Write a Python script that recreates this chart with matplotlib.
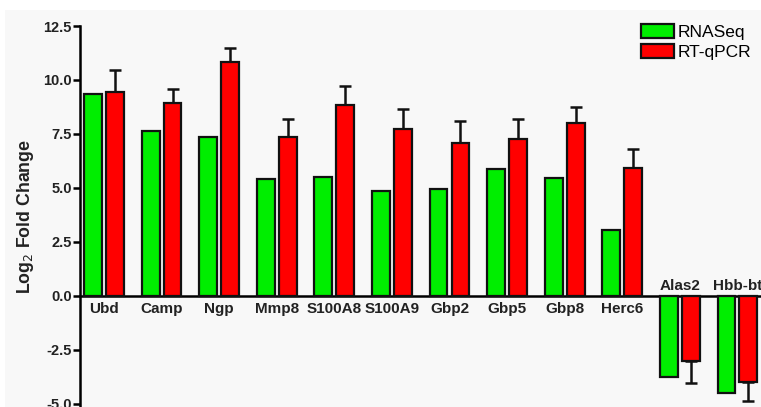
import matplotlib
matplotlib.use('Agg')
import numpy as np
import matplotlib.pyplot as plt
from matplotlib.patches import Rectangle

genes = ['Ubd', 'Camp', 'Ngp', 'Mmp8', 'S100A8', 'S100A9',
         'Gbp2', 'Gbp5', 'Gbp8', 'Herc6', 'Alas2', 'Hbb-bt']
rnaseq = [9.35, 7.65, 7.38, 5.40, 5.52, 4.88, 4.95, 5.87, 5.45, 3.06, -3.73, -4.48]
rtqpcr = [9.44, 8.95, 10.83, 7.38, 8.84, 7.73, 7.07, 7.28, 8.00, 5.91, -2.99, -3.98]
rtqpcr_err = [1.02, 0.65, 0.64, 0.83, 0.88, 0.94, 1.03, 0.90, 0.74, 0.91, 1.02, 0.87]
yticks = [-5.0, -2.5, 0.0, 2.5, 5.0, 7.5, 10.0, 12.5]

plt.rcParams['font.family'] = ['Liberation Sans', 'DejaVu Sans']

W, H = 761, 407
fig = plt.figure(figsize=(W / 100, H / 100), dpi=100)
fig.patch.set_facecolor('white')
fig.patches.append(Rectangle((5 / W, 0), 1, 1 - 10 / H, transform=fig.transFigure,
                             facecolor='#f8f8f8', edgecolor='none', zorder=-5))

ax = fig.add_axes([80 / W, 0, (W - 80) / W, 1 - 26 / H])
ax.set_facecolor('none')

x = np.arange(len(genes))
bw = 0.31
off = 0.19
ax.bar(x - off, rnaseq, bw, color='#00ee00', edgecolor='#111111', linewidth=1.6,
       label='RNASeq', zorder=3)
ax.bar(x + off, rtqpcr, bw, color='#ff0000', edgecolor='#111111', linewidth=1.6,
       label='RT-qPCR', zorder=3)

rt = np.array(rtqpcr)
err = np.array(rtqpcr_err)
lower = np.where(rt < 0, err, 0)
upper = np.where(rt >= 0, err, 0)
ax.errorbar(x + off, rtqpcr, yerr=[lower, upper], fmt='none', ecolor='#111111',
            elinewidth=1.8, capsize=4, capthick=1.8, zorder=2)

for i, g in enumerate(genes):
    if rnaseq[i] >= 0:
        ax.annotate(g, (x[i], 0), xytext=(0, -4.5), textcoords='offset points',
                    ha='center', va='top', fontsize=11, fontweight='bold', color='#222222')
    else:
        ax.annotate(g, (x[i], 0), xytext=(0, 2), textcoords='offset points',
                    ha='center', va='bottom', fontsize=11, fontweight='bold', color='#222222')

ax.set_xlim(-0.417, 11.41)
ax.set_ylim(-5.14, 12.5)
ax.set_yticks(yticks)
ax.set_yticklabels(['%.1f' % v for v in yticks], fontsize=10.5, fontweight='bold',
                   color='#222222')
ax.set_xticks([])
ax.tick_params(axis='y', direction='out', length=5, width=1.8, pad=1)

for s in ['top', 'right']:
    ax.spines[s].set_visible(False)
ax.spines['left'].set_linewidth(1.8)
ax.spines['bottom'].set_position(('data', 0))
ax.spines['bottom'].set_linewidth(1.8)

ax.set_ylabel('Log$_2$ Fold Change', fontsize=12.8, fontweight='bold', color='#222222',
              labelpad=5)

leg = ax.legend(loc='upper right', bbox_to_anchor=(1.008, 1.045), frameon=False,
                fontsize=12.5, handlelength=1.9, handleheight=0.8, handletextpad=0.2,
                labelspacing=0.25)

fig.savefig('out.png', dpi=100)
